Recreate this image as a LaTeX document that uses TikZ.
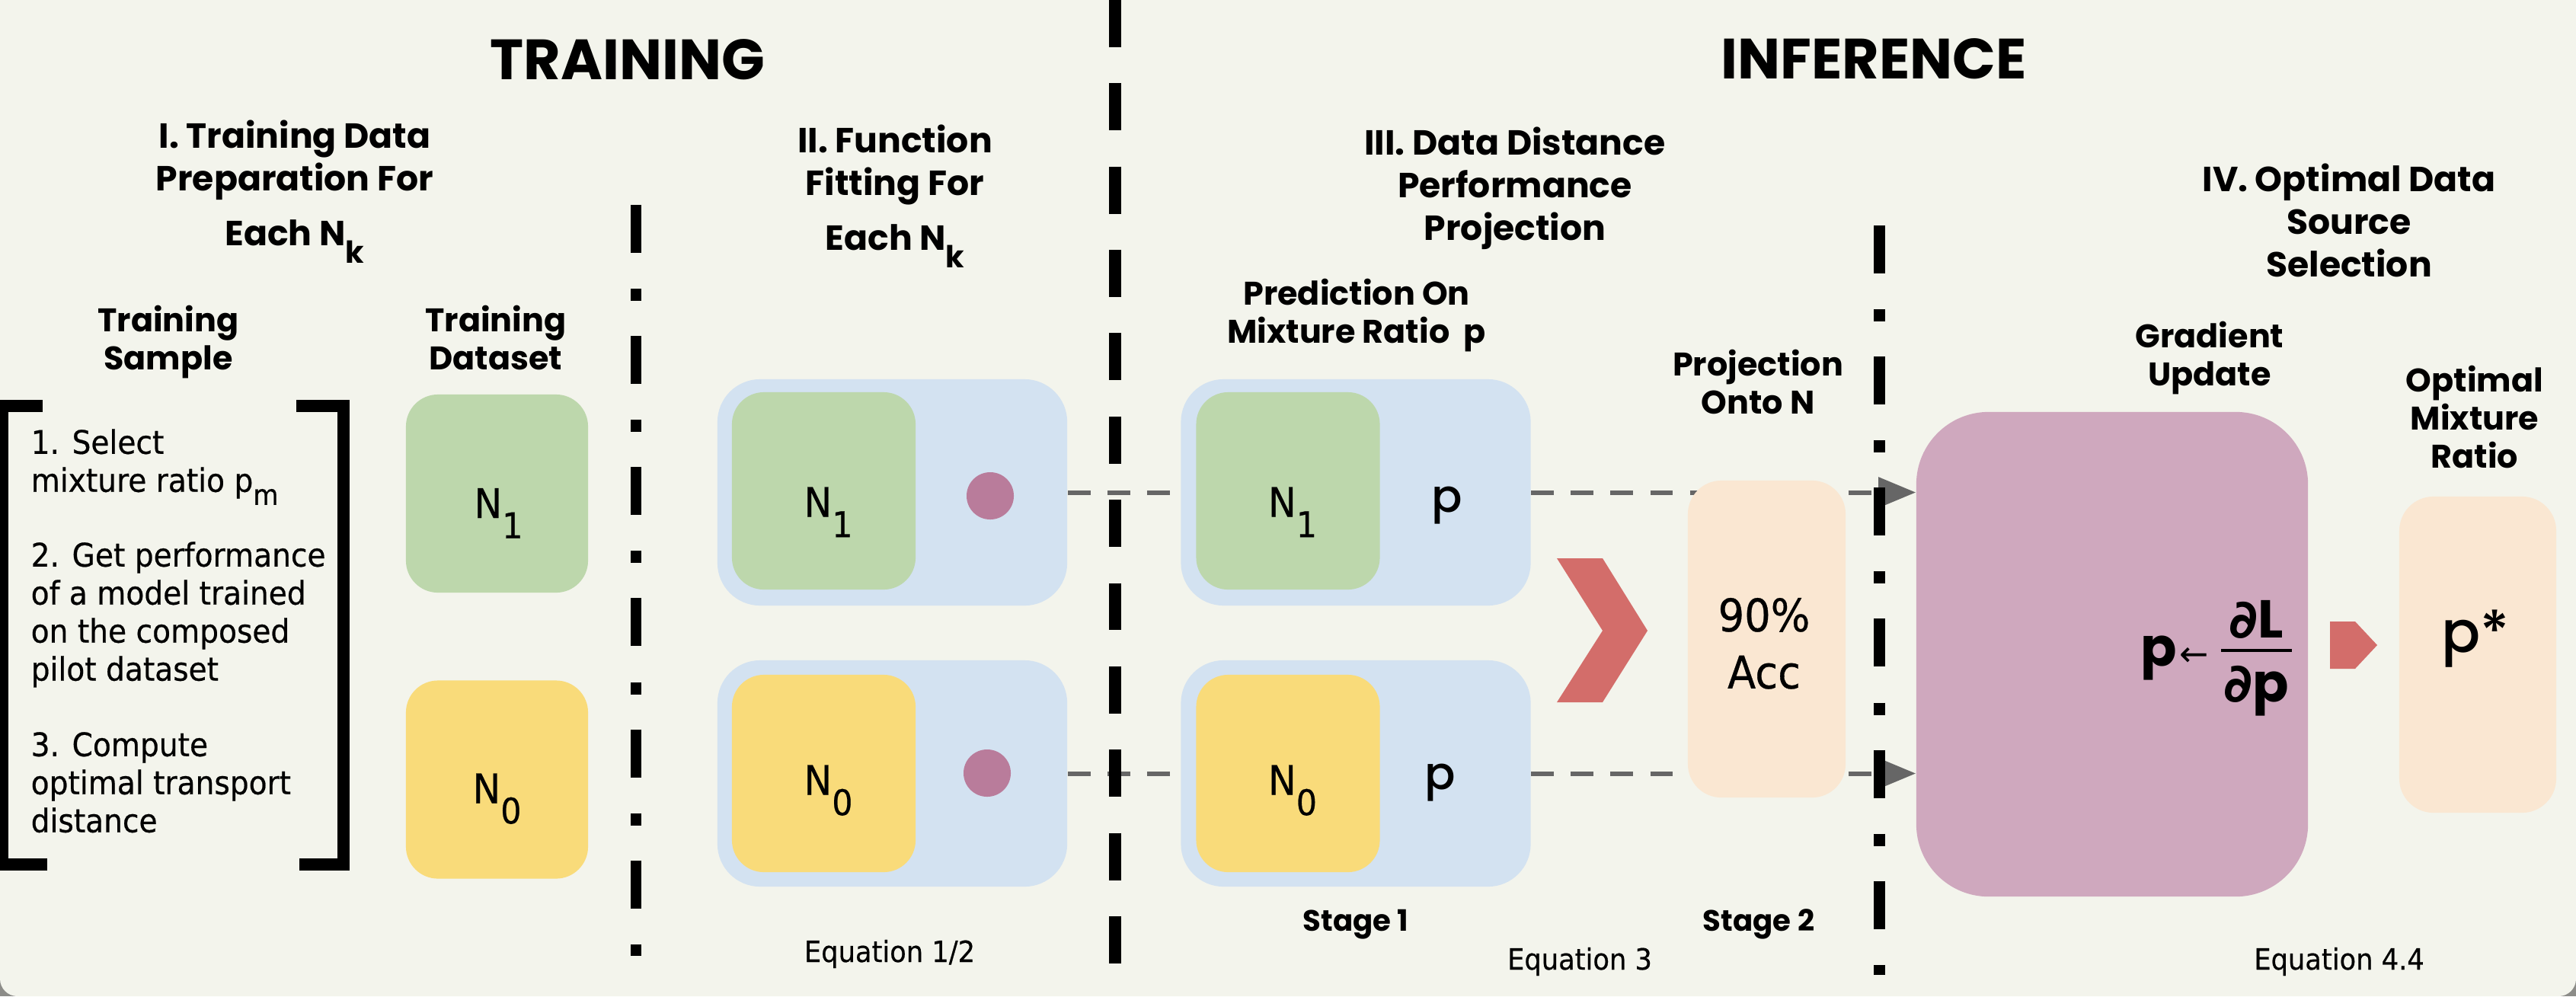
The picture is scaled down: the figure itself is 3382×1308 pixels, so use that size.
\documentclass[tikz,border=0pt]{standalone}
\usepackage{fontspec}
\usepackage{graphicx}
\setmainfont{DejaVu Sans}[FakeStretch=0.92, FakeBold=0.5]
\newfontfamily\hd{Poppins}
\newfontfamily\hdm{Poppins Medium}
\newfontfamily\djf{DejaVu Sans}
\usetikzlibrary{arrows.meta}
\definecolor{bgc}{HTML}{F3F4EC}
\definecolor{cornc}{HTML}{8C8C88}
\definecolor{grn}{HTML}{BDD7AC}
\definecolor{ylw}{HTML}{F9DB7A}
\definecolor{blu}{HTML}{D3E2F1}
\definecolor{dotc}{HTML}{B97C9B}
\definecolor{pch}{HTML}{FAE7D2}
\definecolor{prp}{HTML}{CFA8BE}
\definecolor{redc}{HTML}{D36D6A}
\definecolor{gryc}{HTML}{666666}
\newcommand\lowsub[2][-0.5em]{\raisebox{#1}{\scalebox{0.87}{#2}}}
\newcommand\tstr{\rule{0pt}{0.85em}}
\begin{document}
\begin{tikzpicture}[x=0.01cm, y=-0.01cm,
  ttl/.style={font=\hd\bfseries\fontsize{21.2}{24}\selectfont, anchor=base, inner sep=0pt},
  hdg/.style={font=\hd\bfseries\fontsize{13}{15.9}\selectfont, align=center, anchor=north, inner sep=0pt},
  sbh/.style={font=\hd\bfseries\fontsize{12.2}{14.2}\selectfont, align=center, anchor=north, inner sep=0pt},
  stg/.style={font=\hd\bfseries\fontsize{11}{13}\selectfont, anchor=base, inner sep=0pt},
  eqn/.style={font=\fontsize{10.9}{13}\selectfont, anchor=base, inner sep=0pt},
  itm/.style={font=\fontsize{12.1}{14.2}\selectfont, align=left, anchor=north west, inner sep=0pt},
  nlab/.style={font=\fontsize{15.2}{18}\selectfont, anchor=base, inner sep=0pt},
  plab/.style={font=\hdm\fontsize{17}{20}\selectfont, anchor=base, inner sep=0pt},
  fml/.style={font=\hd\bfseries\fontsize{19.9}{22}\selectfont, anchor=base, inner sep=0pt},
  rbox/.style={rectangle, inner sep=0pt, draw=none},
  dset/.style={rbox, rounded corners=0.42cm, minimum width=2.39cm, minimum height=2.60cm},
  obox/.style={rbox, fill=blu, rounded corners=0.56cm, minimum width=4.59cm, minimum height=2.97cm},
  ibox/.style={rbox, rounded corners=0.42cm, minimum width=2.41cm, minimum height=2.59cm},
  dotn/.style={circle, fill=dotc, minimum size=0.62cm, inner sep=0pt},
  conn/.style={draw=gryc, line width=0.06cm, dash pattern=on 8.5pt off 6.3pt},
  arrtip/.style={-{Triangle[length=0.49cm,width=0.39cm]}},
  ddot/.style={line width=0.14cm, dash pattern=on 17.9pt off 13.4pt on 4.55pt off 13.1pt},
  ldash/.style={line width=0.16cm, dash pattern=on 17.6pt off 13.5pt},
  brk/.style={line width=0.16cm, line join=miter},
]
\useasboundingbox (0,0) rectangle (3382,1308);
\fill[cornc] (0,0) rectangle (3382,1308);
\fill[bgc, rounded corners=0.23cm] (0,-60) rectangle (3382,1308);

% boxes
\node[dset, fill=grn] (d1) at (652.5,648) {};
\node[dset, fill=ylw] (d0) at (652.5,1023.5) {};
\node[obox] (f1) at (1171.5,646.5) {};
\node[ibox, fill=grn] (f1n) at (1081.5,644.5) {};
\node[dotn] (f1d) at (1300,651) {};
\node[obox] (f0) at (1171.5,1015.5) {};
\node[ibox, fill=ylw] (f0n) at (1081.5,1015.5) {};
\node[dotn] (f0d) at (1296,1015) {};
\node[obox] (s1) at (1780,646.5) {};
\node[ibox, fill=grn] (s1n) at (1691,644.5) {};
\node[obox] (s0) at (1780,1015.5) {};
\node[ibox, fill=ylw] (s0n) at (1691,1015.5) {};
\node[rbox, fill=prp, rounded corners=0.95cm, minimum width=5.14cm, minimum height=6.36cm] (grad) at (2773,859) {};
\node[rbox, fill=pch, rounded corners=0.45cm, minimum width=2.06cm, minimum height=4.15cm] (pst) at (3253,859.5) {};

% connectors
\draw[conn] (f1.east) -- (s1.west);
\draw[conn] (f0.east) -- (s0.west);
\draw[conn, arrtip] (s1.east) -- (s1.east -| grad.west);
\draw[conn, arrtip] (s0.east) -- (s0.east -| grad.west);

\node[rbox, fill=pch, rounded corners=0.44cm, minimum width=2.07cm, minimum height=4.16cm] (acc) at (2319.5,839) {};

% chevron and small arrow
\fill[redc] (2044,733) -- (2104,733) -- (2163,828) -- (2104,922) -- (2044,922) -- (2104,828) -- cycle;
\fill[redc] (3059,816) -- (3092,816) -- (3121,847) -- (3092,878) -- (3059,878) -- cycle;

% dividers
\draw[ddot] (835,269) -- (835,1255);
\draw[ldash] (1464,0) -- (1464,1265);
\draw[ddot, line width=0.15cm] (2467,296) -- (2467,1280);

% bracket
\draw[brk] (56,533) -- (3,533) -- (3,1135) -- (62,1135);
\draw[brk] (389,533) -- (451,533) -- (451,1135) -- (393,1135);

% titles
\node[ttl] (ttr) at (824,104) {TRAINING};
\node[ttl] (tinf) at (2460,103) {INFERENCE};
\node[hdg] (h1) at (387,155.2) {\tstr I. Training Data\\Preparation For\\[4.6pt]Each N\lowsub{k}};
\node[hdg] (h2) at (1175,161.2) {\tstr II. Function\\Fitting For\\[4.6pt]Each N\lowsub{k}};
\node[hdg] (h3) at (1989,164.2) {\tstr III. Data Distance\\Performance\\Projection};
\node[hdg] (h4) at (3084,212.2) {\tstr IV. Optimal Data\\Source\\Selection};

\node[sbh] (tsam) at (221,398.6) {\tstr Training\\Sample};
\node[sbh] (tdat) at (651,398.6) {\tstr Training\\Dataset};
\node[sbh] (pred) at (1781,363.6) {\tstr Prediction On\\Mixture Ratio~~p};
\node[sbh] (proj) at (2308,456.6) {\tstr Projection\\Onto N};
\node[sbh] (gup) at (2901,419.6) {\tstr Gradient\\Update};
\node[sbh] (omr) at (3249,477.6) {\tstr Optimal\\Mixture\\Ratio};

\node[stg] (st1) at (1780,1222) {Stage 1};
\node[stg] (st2) at (2309,1222) {Stage 2};
\node[eqn] (eq12) at (1168,1263) {Equation 1/2};
\node[eqn] (eq3) at (2074,1273) {Equation 3};
\node[eqn] (eq44) at (3071,1273) {Equation 4.4};

% bracket items
\node[itm] (i1) at (40,558.9) {\tstr 1. Select\\mixture ratio p\lowsub[-0.4em]{m}};
\node[itm] (i2) at (40,706.9) {\tstr 2. Get performance\\of a model trained\\on the composed\\pilot dataset};
\node[itm] (i3) at (40,955.9) {\tstr 3. Compute\\optimal transport\\distance};

% labels in boxes
\node[nlab] (d1l) at ([shift={(2,32)}]d1.center) {N\lowsub{1}};
\node[nlab] (d0l) at ([shift={(0,31)}]d0.center) {N\lowsub{0}};
\node[nlab] (f1l) at ([shift={(6,34)}]f1n.center) {N\lowsub{1}};
\node[nlab] (f0l) at ([shift={(6,28)}]f0n.center) {N\lowsub{0}};
\node[nlab] (s1l) at ([shift={(6,34)}]s1n.center) {N\lowsub{1}};
\node[nlab] (s0l) at ([shift={(6,28)}]s0n.center) {N\lowsub{0}};
\node[plab] (s1p) at (1900,672) {p};
\node[plab] (s0p) at (1891,1036) {p};
\node[font=\fontsize{16.8}{21.3}\selectfont, align=center, anchor=north, inner sep=0pt] (acct) at (2316,778) {\tstr 90\%\\Acc};
\node[plab, font=\hdm\fontsize{21.5}{24}\selectfont] (pstt) at (3250,856) {p*};

% update formula
\node[fml, anchor=base west] (upl) at (2810,874) {p\kern1pt{\djf\mdseries\fontsize{13}{14}\selectfont ←}};
\node[fml] (unum) at (2962,837) {{\djf\bfseries ∂}L};
\draw[line width=0.035cm] (2916,854) -- (3009,854);
\node[fml] (uden) at (2962,921) {{\djf\bfseries ∂}p};
\end{tikzpicture}
\end{document}
